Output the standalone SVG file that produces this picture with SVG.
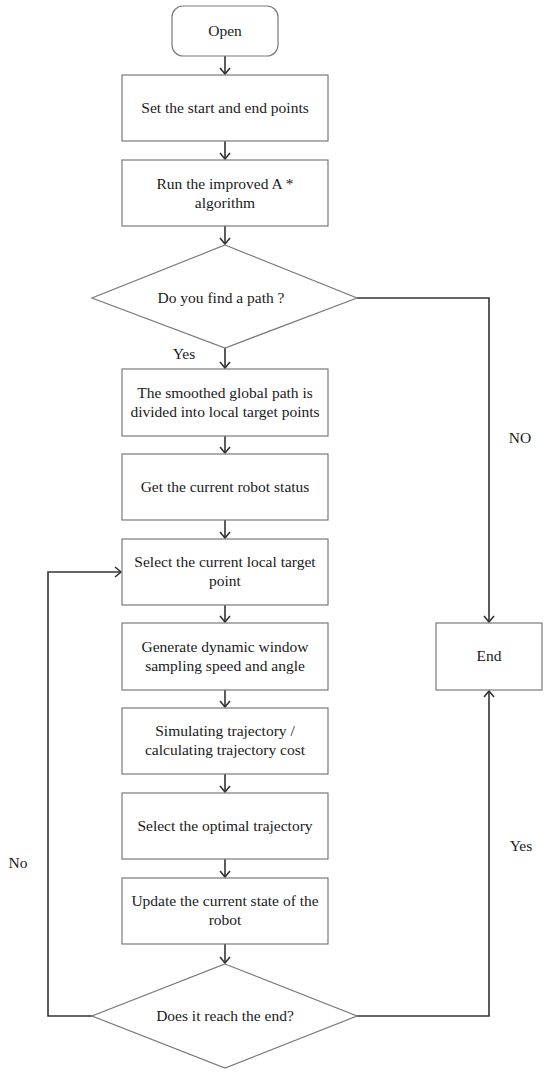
<svg xmlns="http://www.w3.org/2000/svg" width="550" height="1079" viewBox="0 0 550 1079">
<style>
.box{fill:#fff;stroke:#7a7a7a;stroke-width:1.2}
.t{font-family:"Liberation Serif","Times New Roman",serif;font-size:15.5px;fill:#1a1a1a;text-anchor:middle}
.c{fill:none;stroke:#333;stroke-width:1.6}
</style>
<defs>
<marker id="ah" viewBox="-8 -6 10 12" markerWidth="10" markerHeight="12" refX="0" refY="0" orient="auto" markerUnits="userSpaceOnUse">
<path d="M-6,-5 L0,0 L-6,5" fill="none" stroke="#333" stroke-width="1.6"/>
</marker>
</defs>
<rect width="550" height="1079" fill="#fff"/>
<g id="connectors">
<path class="c" d="M225,56 V74" marker-end="url(#ah)"/>
<path class="c" d="M225,141 V159" marker-end="url(#ah)"/>
<path class="c" d="M225,226 V244" marker-end="url(#ah)"/>
<path class="c" d="M225,348 V368" marker-end="url(#ah)"/>
<path class="c" d="M225,436 V453" marker-end="url(#ah)"/>
<path class="c" d="M225,520 V538" marker-end="url(#ah)"/>
<path class="c" d="M225,605 V622" marker-end="url(#ah)"/>
<path class="c" d="M225,690 V707" marker-end="url(#ah)"/>
<path class="c" d="M225,774 V792" marker-end="url(#ah)"/>
<path class="c" d="M225,859 V877" marker-end="url(#ah)"/>
<path class="c" d="M225,944 V963" marker-end="url(#ah)"/>
<path class="c" d="M357,298 H489 V622" marker-end="url(#ah)"/>
<path class="c" d="M357,1016 H489 V691" marker-end="url(#ah)"/>
<path class="c" d="M92,1016 H48 V572 H121" marker-end="url(#ah)"/>
<text class="t" x="184" y="359">Yes</text>
<text class="t" x="520" y="443">NO</text>
<text class="t" x="18" y="868">No</text>
<text class="t" x="521" y="851">Yes</text>
</g>
<g id="open"><rect class="box" x="172" y="6" width="106" height="50" rx="11"/><text class="t" x="225" y="36">Open</text></g>
<g id="set"><rect class="box" x="122" y="75" width="206" height="66"/><text class="t" x="225" y="113">Set the start and end points</text></g>
<g id="run"><rect class="box" x="122" y="160" width="206" height="66"/><text class="t" x="225" y="189">Run the improved A *</text><text class="t" x="225" y="208">algorithm</text></g>
<g id="find"><polygon class="box" points="225,245 357,298 225,348 92,298"/><text class="t" x="221" y="303">Do you find a path ?</text></g>
<g id="smooth"><rect class="box" x="122" y="369" width="206" height="67"/><text class="t" x="225" y="398">The smoothed global path is</text><text class="t" x="225" y="417">divided into local target points</text></g>
<g id="status"><rect class="box" x="122" y="454" width="206" height="66"/><text class="t" x="225" y="492">Get the current robot status</text></g>
<g id="select"><rect class="box" x="122" y="539" width="206" height="66"/><text class="t" x="225" y="567">Select the current local target</text><text class="t" x="225" y="586">point</text></g>
<g id="generate"><rect class="box" x="122" y="623" width="206" height="67"/><text class="t" x="225" y="652">Generate dynamic window</text><text class="t" x="225" y="671">sampling speed and angle</text></g>
<g id="simulate"><rect class="box" x="122" y="708" width="206" height="66"/><text class="t" x="225" y="736">Simulating trajectory /</text><text class="t" x="225" y="755">calculating trajectory cost</text></g>
<g id="optimal"><rect class="box" x="122" y="793" width="206" height="66"/><text class="t" x="225" y="831">Select the optimal trajectory</text></g>
<g id="update"><rect class="box" x="122" y="878" width="206" height="66"/><text class="t" x="225" y="906">Update the current state of the</text><text class="t" x="225" y="925">robot</text></g>
<g id="reach"><polygon class="box" points="225,964 357,1016 225,1068 92,1016"/><text class="t" x="225" y="1021">Does it reach the end?</text></g>
<g id="end"><rect class="box" x="436" y="623" width="106" height="67"/><text class="t" x="489" y="661">End</text></g>
</svg>
